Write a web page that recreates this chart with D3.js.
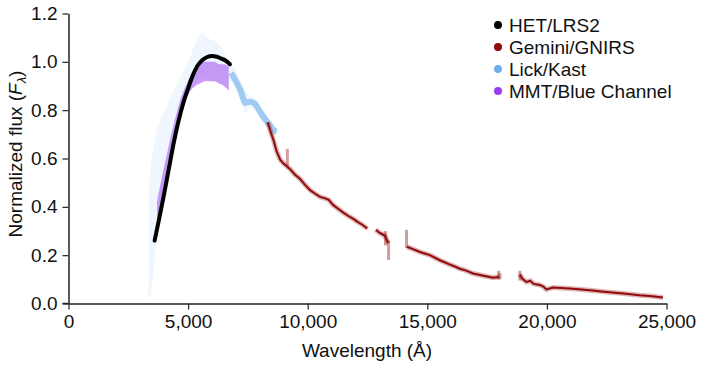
<!DOCTYPE html>
<html>
<head>
<meta charset="utf-8">
<script src="https://cdn.jsdelivr.net/npm/d3@7"></script>
<style>
  html, body { margin: 0; padding: 0; background: #fff; }
  svg { display: block; font-family: "Liberation Sans", Arial, Helvetica, sans-serif; }
</style>
</head>
<body>
<svg id="chart" width="703" height="369"></svg>
<script>
// ---------- data ----------
const xTicks = [0, 5000, 10000, 15000, 20000, 25000];
const yTicks = [0, 0.2, 0.4, 0.6, 0.8, 1.0, 1.2];

const seriesNames = ["HET/LRS2", "Gemini/GNIRS", "Lick/Kast", "MMT/Blue Channel"];
const seriesColors = ["#000000", "#8f0a0a", "#6aaeea", "#9a3cf0"];

// HET/LRS2
const hetWave = [3600, 3800, 4000, 4200, 4400, 4600, 4800, 5000, 5200, 5400, 5600, 5800, 6000, 6200, 6400, 6600, 6750];
const hetFlux = [0.26, 0.355, 0.455, 0.56, 0.665, 0.755, 0.83, 0.89, 0.945, 0.985, 1.008, 1.02, 1.024, 1.021, 1.013, 1.003, 0.99];

// Lick/Kast (lower / upper envelope of the scatter, and its dense core)
const lickWave = [3350, 3450, 3550, 3650, 3800, 4000, 4200, 4400, 4600, 4800, 5000, 5200, 5400, 5600, 5800, 6000, 6200, 6400, 6600, 6800, 7000, 7200, 7400, 7600, 7800, 8000, 8200, 8400, 8600, 8700];
const lickLo =   [0.02, 0.05, 0.12, 0.25, 0.33, 0.43, 0.53, 0.63, 0.72, 0.80, 0.86, 0.90, 0.92, 0.93, 0.93, 0.92, 0.92, 0.91, 0.90, 0.92, 0.88, 0.84, 0.79, 0.81, 0.80, 0.77, 0.74, 0.72, 0.69, 0.70];
const lickHi =   [0.45, 0.58, 0.64, 0.70, 0.75, 0.79, 0.84, 0.88, 0.92, 0.96, 1.00, 1.05, 1.10, 1.12, 1.10, 1.09, 1.08, 1.06, 1.02, 0.99, 0.96, 0.92, 0.88, 0.86, 0.85, 0.82, 0.79, 0.76, 0.74, 0.72];
const lickCore = [null, null, null, null, null, null, null, null, null, null, null, null, null, null, null, null, null, null, null, 0.955, 0.92, 0.88, 0.83, 0.835, 0.825, 0.795, 0.765, 0.74, 0.715, 0.71];

// MMT/Blue Channel (lower / upper envelope)
const mmtWave = [3700, 3900, 4100, 4300, 4500, 4700, 4900, 5100, 5300, 5500, 5700, 5900, 6100, 6300, 6500, 6700];
const mmtLo =   [0.33, 0.42, 0.52, 0.62, 0.71, 0.79, 0.84, 0.88, 0.90, 0.91, 0.92, 0.92, 0.92, 0.91, 0.90, 0.88];
const mmtHi =   [0.42, 0.52, 0.61, 0.70, 0.78, 0.85, 0.90, 0.94, 0.97, 0.99, 1.00, 1.00, 1.00, 0.99, 0.99, 0.98];

// Gemini/GNIRS (null = gap in the spectrum)
const gemWave = [8330, 8450, 8570, 8700, 8850, 9000, 9100, 9265, 9450, 9683, 9900, 10100, 10300, 10518, 10700, 10866, 11073, 11300, 11490, 11700, 11908, 12100, 12300, 12490, 12650,
                 12850, 13000, 13230, 13370, 13700,
                 14150, 14400, 14700, 15108, 15526, 15900, 16200, 16361, 16500, 16700, 16917, 17300, 17752, 18000, 18400,
                 18865, 19000, 19143, 19300, 19450, 19700, 19850, 19978, 20256, 20600, 21090, 21800, 22483, 23200, 23873, 24400, 24850];
const gemFlux = [0.75, 0.71, 0.676, 0.63, 0.595, 0.578, 0.57, 0.556, 0.535, 0.515, 0.49, 0.469, 0.455, 0.441, 0.436, 0.43, 0.407, 0.39, 0.376, 0.362, 0.35, 0.337, 0.325, 0.31, null,
                 0.305, 0.293, 0.28, 0.25, null,
                 0.235, 0.225, 0.213, 0.2, 0.179, 0.163, 0.151, 0.144, 0.14, 0.133, 0.124, 0.116, 0.107, 0.11, null,
                 0.12, 0.10, 0.089, 0.094, 0.081, 0.077, 0.07, 0.058, 0.066, 0.064, 0.061, 0.055, 0.048, 0.041, 0.034, 0.03, 0.025];
// Scattered spikes in the Gemini data: wavelength, low and high flux
const gemSpikeWave = [9150, 13250, 13380, 14130, 17980, 18040, 18870];
const gemSpikeLo =   [0.57, 0.24, 0.18, 0.23, 0.10, 0.10, 0.095];
const gemSpikeHi =   [0.64, 0.30, 0.26, 0.305, 0.135, 0.125, 0.135];

// ---------- layout ----------
const FONT = "'Liberation Sans', Arial, sans-serif";
const svg = d3.select("#chart");
const x = d3.scaleLinear().domain([0, 25000]).range([68.5, 666.5]);
const y = d3.scaleLinear().domain([0, 1.2]).range([303.5, 13.5]);

const g = svg.append("g");

// Lick/Kast cloud
const lickData = lickWave.map((w, i) => ({ w, lo: lickLo[i], hi: lickHi[i], c: lickCore[i] }));
g.append("path").datum(lickData)
  .attr("d", d3.area().curve(d3.curveMonotoneX).x(d => x(d.w)).y0(d => y(d.lo)).y1(d => y(d.hi)))
  .attr("fill", seriesColors[2]).attr("fill-opacity", 0.11);
g.append("path").datum(lickData)
  .attr("d", d3.line().defined(d => d.c != null).curve(d3.curveMonotoneX).x(d => x(d.w)).y(d => y(d.c)))
  .attr("fill", "none").attr("stroke", seriesColors[2]).attr("stroke-opacity", 0.6).attr("stroke-width", 6);

// MMT band
const mmtData = mmtWave.map((w, i) => ({ w, lo: mmtLo[i], hi: mmtHi[i] }));
g.append("path").datum(mmtData)
  .attr("d", d3.area().curve(d3.curveMonotoneX).x(d => x(d.w)).y0(d => y(d.lo)).y1(d => y(d.hi)))
  .attr("fill", seriesColors[3]).attr("fill-opacity", 0.5);

// Gemini
const gemData = gemWave.map((w, i) => ({ w, f: gemFlux[i] }));
const gemLine = d3.line().defined(d => d.f != null).x(d => x(d.w)).y(d => y(d.f));
g.append("path").datum(gemData).attr("d", gemLine)
  .attr("fill", "none").attr("stroke", seriesColors[1]).attr("stroke-opacity", 0.3).attr("stroke-width", 5);
g.append("path").datum(gemData).attr("d", gemLine)
  .attr("fill", "none").attr("stroke", seriesColors[1]).attr("stroke-width", 2);
g.selectAll("line.spike").data(gemSpikeWave.map((w, i) => ({ w, lo: gemSpikeLo[i], hi: gemSpikeHi[i] })))
  .join("line").attr("class", "spike")
  .attr("x1", d => x(d.w)).attr("x2", d => x(d.w))
  .attr("y1", d => y(d.lo)).attr("y2", d => y(d.hi))
  .attr("stroke", seriesColors[1]).attr("stroke-opacity", 0.4).attr("stroke-width", 3);

// HET
const hetData = hetWave.map((w, i) => ({ w, f: hetFlux[i] }));
g.append("path").datum(hetData)
  .attr("d", d3.line().curve(d3.curveMonotoneX).x(d => x(d.w)).y(d => y(d.f)))
  .attr("fill", "none").attr("stroke", seriesColors[0]).attr("stroke-width", 4).attr("stroke-linecap", "round");

// ---------- axes ----------
const xAxis = svg.append("g").attr("transform", "translate(0,303.5)")
  .call(d3.axisBottom(x).tickValues(xTicks).tickFormat(d3.format(",")).tickSize(6).tickPadding(5).tickSizeOuter(0));
const yAxis = svg.append("g").attr("transform", "translate(68.5,0)")
  .call(d3.axisLeft(y).tickValues(yTicks).tickFormat(d3.format(".1f")).tickSize(6).tickPadding(5).tickSizeOuter(0));
[xAxis, yAxis].forEach(a => {
  a.select(".domain").attr("stroke", "#222").attr("stroke-width", 1.5);
  a.selectAll(".tick line").attr("stroke", "#222").attr("stroke-width", 1.2);
  a.selectAll("text").attr("fill", "#111").style("font-size", "19px").style("font-family", FONT);
});
svg.append("line").attr("x1", 62.5).attr("x2", 68.5).attr("y1", 303.5).attr("y2", 303.5).attr("stroke", "#222").attr("stroke-width", 1.5);

// axis titles
svg.append("text").attr("x", 367).attr("y", 357).attr("text-anchor", "middle")
  .style("font-size", "19px").style("font-family", FONT).attr("fill", "#111").text("Wavelength (Å)");
const yt = svg.append("text").attr("transform", "translate(22,154) rotate(-90)").attr("text-anchor", "middle")
  .style("font-size", "19px").style("font-family", FONT).attr("fill", "#111");
yt.append("tspan").text("Normalized flux (");
yt.append("tspan").style("font-style", "italic").text("F");
yt.append("tspan").attr("dy", 4).style("font-size", "13px").style("font-style", "italic").text("λ");
yt.append("tspan").attr("dy", -4).text(")");

// ---------- legend ----------
const leg = svg.append("g").selectAll("g").data(seriesNames).join("g")
  .attr("transform", (d, i) => `translate(498,${25 + i * 22})`);
leg.append("circle").attr("r", 4).attr("fill", (d, i) => seriesColors[i]);
leg.append("text").attr("x", 11).attr("dy", "0.36em").style("font-size", "19px").style("font-family", FONT).attr("fill", "#111").text(d => d);
</script>
</body>
</html>
